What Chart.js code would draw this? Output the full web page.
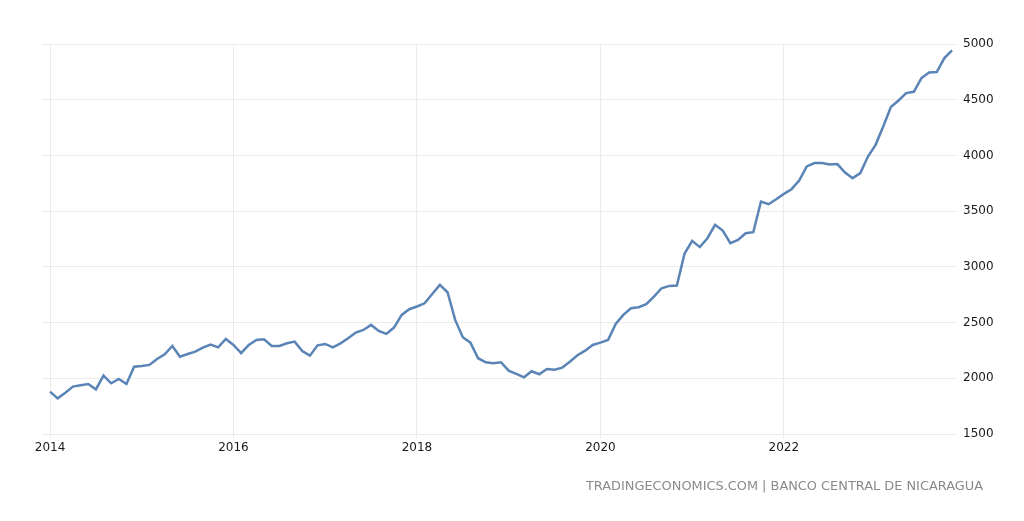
<!DOCTYPE html>
<html lang="en">
<head>
    <meta charset="UTF-8">
    <title>Nicaragua - Chart</title>
    <script src="https://cdn.jsdelivr.net/npm/chart.js"></script>
    <style>
        body {
            margin: 0;
            padding: 0;
            background: #ffffff;
            font-family: "DejaVu Sans", sans-serif;
        }

        .wrap {
            position: relative;
            width: 1024px;
            height: 521px;
        }

        .source {
            position: absolute;
            right: 41px;
            top: 478px;
            font-size: 12.9px;
            color: #8a8a8a;
            white-space: nowrap;
        }
    </style>
</head>
<body>

    <div class="wrap">
        <canvas id="chart" width="1024" height="521"></canvas>
        <div class="source">TRADINGECONOMICS.COM | BANCO CENTRAL DE NICARAGUA</div>
    </div>

    <script>
        // monthly values, Jan 2014 .. Nov 2023
        var startYear = 2014;
        var values = [
            1880, 1820, 1870, 1925, 1937, 1949, 1901, 2024, 1955, 1994, 1949, 2104,
            2110, 2120, 2173, 2215, 2290, 2194, 2218, 2239, 2275, 2302, 2278, 2353,
            2299, 2225, 2299, 2344, 2350, 2290, 2290, 2314, 2329, 2245, 2203, 2296,
            2308, 2278, 2314, 2359, 2410, 2434, 2479, 2425, 2398, 2455, 2569, 2620,
            2644, 2673, 2757, 2838, 2772, 2524, 2368, 2320, 2180, 2144, 2135, 2144,
            2069, 2039, 2009, 2063, 2036, 2084, 2077, 2095, 2149, 2207, 2248, 2299,
            2320, 2344, 2488, 2569, 2629, 2638, 2665, 2733, 2808, 2829, 2832, 3117,
            3233, 3177, 3257, 3377, 3326, 3212, 3242, 3302, 3311, 3586, 3562, 3607,
            3655, 3697, 3775, 3901, 3931, 3931, 3918, 3922, 3847, 3796, 3841, 3990,
            4095, 4260, 4434, 4493, 4559, 4571, 4694, 4745, 4748, 4874, 4942
        ];
        var xTickMonths = [0, 24, 48, 72, 96];
        var yTicks = [1500, 2000, 2500, 3000, 3500, 4000, 4500, 5000];

        var points = values.map(function (v, i) {
            return { x: i, y: v };
        });

        var ctx = document.getElementById('chart').getContext('2d');

        var chart = new Chart(ctx, {
            type: 'line',
            data: {
                datasets: [{
                    data: points,
                    borderColor: '#5a84b6',
                    borderWidth: 2.5,
                    pointRadius: 0,
                    tension: 0,
                    fill: false
                }]
            },
            options: {
                responsive: false,
                animation: false,
                layout: {
                    padding: { left: 42, top: 44, right: 0, bottom: 0 }
                },
                plugins: {
                    legend: { display: false },
                    tooltip: { enabled: false }
                },
                scales: {
                    x: {
                        type: 'linear',
                        min: -1.05,
                        max: 118.65,
                        afterFit: function (scale) { scale.height = 87; },
                        afterBuildTicks: function (scale) {
                            scale.ticks = xTickMonths.map(function (m) { return { value: m }; });
                        },
                        grid: {
                            color: '#ebebeb',
                            drawTicks: true,
                            tickLength: 4
                        },
                        border: { display: false },
                        ticks: {
                            padding: 3,
                            color: '#1a1a1a',
                            font: { family: 'DejaVu Sans', size: 12 },
                            maxRotation: 0,
                            callback: function (v) { return String(startYear + v / 12); }
                        }
                    },
                    y: {
                        position: 'right',
                        min: 1500,
                        max: 5000,
                        afterFit: function (scale) { scale.width = 67; },
                        afterBuildTicks: function (scale) {
                            scale.ticks = yTicks.map(function (t) { return { value: t }; });
                        },
                        grid: {
                            color: '#ebebeb',
                            drawTicks: false
                        },
                        border: { display: false },
                        ticks: {
                            padding: 6,
                            color: '#1a1a1a',
                            font: { family: 'DejaVu Sans', size: 12 },
                            callback: function (v) { return String(v); }
                        }
                    }
                }
            }
        });
    </script>
</body>
</html>
